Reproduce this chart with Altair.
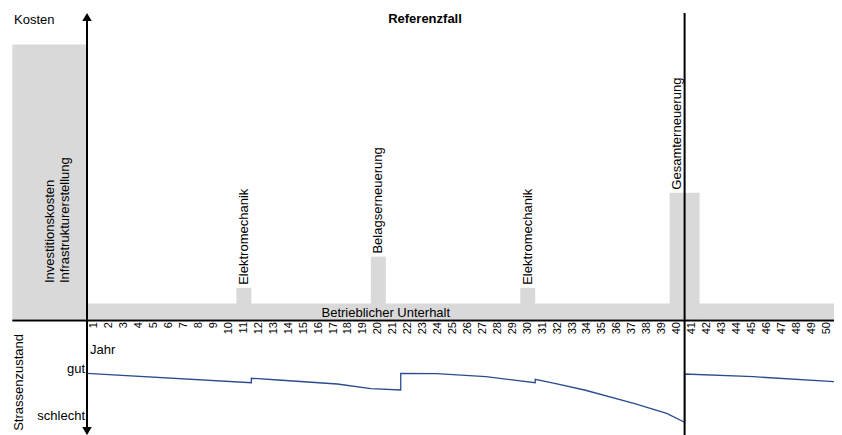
import altair as alt
import pandas as pd

# ---------------- data ----------------
years = list(range(1, 51))

cost_labels = ["Betrieblicher Unterhalt", "Elektromechanik", "Belagserneuerung", "Elektromechanik", "Gesamterneuerung"]
cost_start = [0, 10, 19, 29, 39]
cost_end = [50, 11, 20, 30, 41]
cost_value = [1.0, 2.0, 4.0, 2.0, 8.1]
event_year = [None, 11, 20, 30, 40]

invest_lines = ["Investitionskosten", "Infrastrukturerstellung"]
invest_start = [-5]
invest_end = [0]
invest_value = [17.6]

cond_year = [0, 11, 11, 12.8, 16.75, 19, 21, 21, 23.4, 26.7, 30, 30, 31.3, 33.3, 36.6, 38.8, 40, 40, 44.6, 50]
cond_value = [100, 81.2, 90, 86.6, 78.6, 69.2, 66.6, 100, 99.2, 93.2, 81.2, 88, 80, 66.6, 40, 20, 2, 98.6, 93.2, 83.2]

# ---------------- styling ----------------
FONT = "Liberation Sans"
GRAY = "#d9d9d9"
LINE = "#2b4b8f"
W, H = 826, 427

xscale = alt.Scale(domain=[0, 50], range=[79, 826])
cscale = alt.Scale(domain=[0, 20], range=[311, -1])
zscale = alt.Scale(domain=[0, 100], range=[415.3, 365.3])

cost_df = pd.DataFrame({"label": cost_labels, "start": cost_start, "end": cost_end,
                        "value": cost_value, "event": event_year, "base": 0.0})
inv_df = pd.DataFrame({"start": invest_start, "end": invest_end, "value": invest_value, "base": 0.0})
cond_df = pd.DataFrame({"year": cond_year, "z": cond_value, "i": range(len(cond_year))})
year_df = pd.DataFrame({"year": years})


def txt(t, x, y, size=13, **kw):
    return alt.Chart(pd.DataFrame({"t": [t]})).mark_text(
        font=FONT, fontSize=size, color="black", **kw
    ).encode(text="t:N", x=alt.value(x), y=alt.value(y))


invest = alt.Chart(inv_df).mark_rect(color=GRAY).encode(
    x=alt.X("start:Q", scale=xscale, axis=None), x2="end:Q",
    y=alt.Y("base:Q", scale=cscale, axis=None), y2="value:Q")

bars = alt.Chart(cost_df).mark_rect(color=GRAY).encode(
    x=alt.X("start:Q", scale=xscale, axis=None), x2="end:Q",
    y=alt.Y("base:Q", scale=cscale, axis=None), y2="value:Q")

bar_labels = alt.Chart(cost_df).transform_filter("datum.event != null").transform_calculate(
    xm="datum.event - 0.5").mark_text(
    font=FONT, fontSize=13, angle=270, align="left", baseline="middle", dx=3, color="black").encode(
    x=alt.X("xm:Q", scale=xscale, axis=None),
    y=alt.Y("value:Q", scale=cscale, axis=None),
    text="label:N")

unterhalt = alt.Chart(cost_df).transform_filter("datum.event == null").transform_calculate(
    xm="(datum.start + datum.end) / 2 - 5").mark_text(
    font=FONT, fontSize=13, baseline="middle", color="black").encode(
    x=alt.X("xm:Q", scale=xscale, axis=None), y=alt.value(305), text="label:N")

ticks = alt.Chart(year_df).transform_calculate(xm="datum.year - 0.5").mark_text(
    font=FONT, fontSize=11, angle=270, align="right", baseline="middle", color="black").encode(
    x=alt.X("xm:Q", scale=xscale, axis=None), y=alt.value(314), text="year:N")

curve = alt.Chart(cond_df).mark_line(color=LINE, strokeWidth=1.3).encode(
    x=alt.X("year:Q", scale=xscale, axis=None),
    y=alt.Y("z:Q", scale=zscale, axis=None),
    order="i:Q")

hline = alt.Chart(pd.DataFrame({"a": [-5], "b": [50]})).mark_rule(color="black", strokeWidth=2).encode(
    x=alt.X("a:Q", scale=xscale, axis=None), x2="b:Q", y=alt.value(312.5))

vaxis = alt.Chart(pd.DataFrame({"a": [0]})).mark_rule(color="black", strokeWidth=2).encode(
    x=alt.X("a:Q", scale=xscale, axis=None), y=alt.value(8), y2=alt.value(422))

v40 = alt.Chart(pd.DataFrame({"a": [40]})).mark_rule(color="black", strokeWidth=2).encode(
    x=alt.X("a:Q", scale=xscale, axis=None), y=alt.value(5), y2=alt.value(427))

arrow_up = alt.Chart(pd.DataFrame({"a": [0]})).mark_point(
    shape="triangle-up", filled=True, color="black", size=90, opacity=1).encode(
    x=alt.X("a:Q", scale=xscale, axis=None), y=alt.value(9))

arrow_dn = alt.Chart(pd.DataFrame({"a": [0]})).mark_point(
    shape="triangle-down", filled=True, color="black", size=90, opacity=1).encode(
    x=alt.X("a:Q", scale=xscale, axis=None), y=alt.value(423))

texts = [
    txt("Kosten", 6, 11.5, align="left", baseline="middle"),
    txt("Referenzfall", 417, 11, fontWeight="bold", baseline="middle"),
    txt("Investitionskosten", 42, 275, angle=270, align="left", baseline="middle"),
    txt("Infrastrukturerstellung", 56.5, 275, angle=270, align="left", baseline="middle"),
    txt("Jahr", 82, 342, align="left", baseline="middle"),
    txt("gut", 77, 361, align="right", baseline="middle"),
    txt("schlecht", 77, 408, align="right", baseline="middle"),
    txt("Strassenzustand", 11, 326, angle=270, align="right", baseline="middle"),
]

chart = alt.layer(
    invest, bars, bar_labels, unterhalt, ticks, curve, hline, vaxis, v40, arrow_up, arrow_dn, *texts
).resolve_scale(y="independent").properties(
    width=W, height=H, padding=0, autosize=alt.AutoSizeParams(type="none")
).configure_view(stroke=None)

chart.save("out.html", embed_options={"renderer": "svg", "actions": False})
